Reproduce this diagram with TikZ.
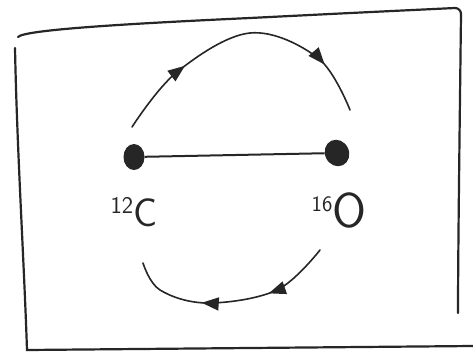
\documentclass[tikz,border=0pt]{standalone}
\usetikzlibrary{arrows.meta,decorations.markings,shapes.geometric}
\definecolor{ink}{HTML}{262626}
\tikzset{
  frameline/.style={draw=ink,line width=2.2pt,line cap=round},
  arcline/.style={draw=ink,line width=1.6pt,line cap=round},
  bond/.style={draw=ink,line width=2pt},
  atomdot/.style={ellipse,fill=ink,inner sep=0pt,minimum width=21pt,minimum height=26pt},
  midarrows/.style 2 args={postaction={decorate},decoration={markings,
    mark=at position #1 with {\arrow{Triangle[length=17pt,width=13pt]}},
    mark=at position #2 with {\arrow{Triangle[length=17pt,width=13pt]}}}},
  lbl/.style={text=ink,font=\sffamily,inner sep=0pt}
}
\begin{document}
\begin{tikzpicture}[x=1pt,y=-1pt]
\useasboundingbox[fill=white] (0,0) rectangle (473,361);
% frame
\coordinate (f1) at (18,37);
\coordinate (f2) at (455,8);
\coordinate (f3) at (461,14);
\coordinate (f4) at (458,313);
\coordinate (f5) at (15,48);
\coordinate (f6) at (27,350);
\coordinate (f7) at (473,346);
\draw[frameline] (f1) .. controls (24,30) and (120,24) .. (250,18) .. controls (350,13) .. (f2) to[out=0,in=90] (f3);
\draw[frameline] (f3) .. controls (460,100) and (458,250) .. (f4);
\draw[frameline] (f5) .. controls (17,150) and (24,260) .. (f6) -- (f7);
% atoms
\node[atomdot] (c) at (134,157) {};
\node[atomdot,minimum width=24pt,minimum height=27pt,rotate=25] (o) at (337,153) {};
\draw[bond] (c) -- (o);
% labels
\node[lbl] (lc) at (134,212) {\raisebox{13pt}{\fontsize{24}{24}\selectfont 12}\fontsize{40}{40}\selectfont C};
\node[lbl] (lo) at (339,210) {\raisebox{16pt}{\fontsize{22}{22}\selectfont 16}\fontsize{49}{49}\selectfont O};
% arcs
\coordinate (a1) at (132,127);
\coordinate (a2) at (350,110);
\draw[arcline,midarrows={0.28}{0.82}] plot[smooth,tension=0.6] coordinates {(a1) (177,72) (250,33) (318,58) (a2)};
\coordinate (b1) at (320,250);
\coordinate (b2) at (143,263);
\draw[arcline,midarrows={0.32}{0.64}] plot[smooth,tension=0.6] coordinates {(b1) (277,290) (208,303) (160,290) (b2)};
\end{tikzpicture}
\end{document}
